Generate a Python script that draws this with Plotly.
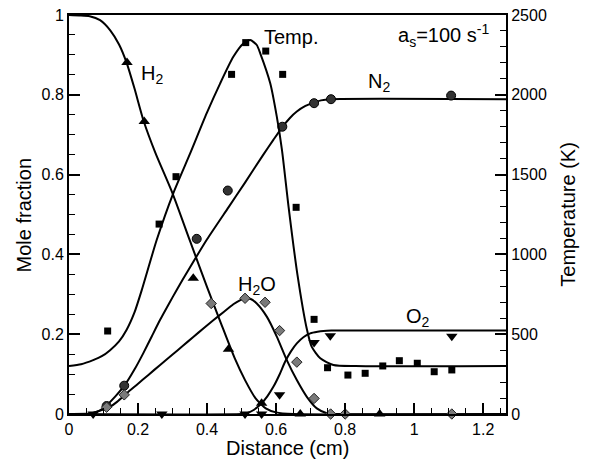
import plotly.graph_objects as go

# ---- model profiles (mole fraction vs distance) ----
h2_x = [0, 0.03, 0.06, 0.09, 0.12, 0.145, 0.167, 0.19, 0.216, 0.25, 0.30, 0.35, 0.40,
        0.44, 0.48, 0.51, 0.54, 0.57, 0.60, 0.65, 1.266]
h2_y = [1.0, 0.999, 0.997, 0.987, 0.961, 0.926, 0.880, 0.815, 0.735, 0.655, 0.553, 0.435,
        0.318, 0.228, 0.140, 0.085, 0.040, 0.014, 0.004, 0.0, 0.0]

n2_x = [0, 0.05, 0.07, 0.09, 0.109, 0.135, 0.162, 0.19, 0.215, 0.24, 0.264, 0.29, 0.312,
        0.346, 0.40, 0.462, 0.51, 0.563, 0.592, 0.617, 0.64, 0.66, 0.685, 0.708, 0.73,
        0.757, 1.266]
n2_y = [0, 0, 0.002, 0.009, 0.022, 0.045, 0.073, 0.112, 0.152, 0.195, 0.236, 0.277, 0.311,
        0.361, 0.438, 0.518, 0.580, 0.650, 0.687, 0.718, 0.742, 0.758, 0.772, 0.780, 0.786,
        0.789, 0.789]

h2o_x = [0, 0.06, 0.08, 0.10, 0.119, 0.14, 0.167, 0.20, 0.23, 0.264, 0.30, 0.33, 0.36,
         0.39, 0.418, 0.45, 0.476, 0.495, 0.51, 0.525, 0.544, 0.573, 0.602, 0.631, 0.66,
         0.689, 0.718, 0.747, 0.78, 1.266]
h2o_y = [0, 0.001, 0.006, 0.011, 0.018, 0.031, 0.052, 0.076, 0.098, 0.123, 0.149, 0.171,
         0.193, 0.215, 0.235, 0.257, 0.275, 0.285, 0.290, 0.289, 0.277, 0.244, 0.194,
         0.135, 0.085, 0.043, 0.014, 0.002, 0.0, 0.0]

o2_x = [0, 0.50, 0.515, 0.535, 0.558, 0.575, 0.592, 0.61, 0.626, 0.643, 0.66, 0.68, 0.699,
        0.72, 0.737, 0.76, 1.266]
o2_y = [0, 0, 0.002, 0.010, 0.027, 0.045, 0.068, 0.099, 0.131, 0.157, 0.177, 0.193, 0.202,
        0.206, 0.208, 0.209, 0.209]

# ---- model temperature profile (K) ----
t_x = [0, 0.035, 0.07, 0.095, 0.119, 0.145, 0.167, 0.19, 0.211, 0.254, 0.302, 0.351,
       0.399, 0.438, 0.476, 0.505, 0.525, 0.544, 0.554, 0.583, 0.602, 0.617, 0.636, 0.662,
       0.689, 0.703, 0.728, 0.766, 0.83, 1.266]
t_y = [300, 312, 338, 362, 400, 455, 528, 638, 778, 1090, 1383, 1633, 1885, 2072, 2238,
       2322, 2343, 2312, 2260, 2072, 1863, 1654, 1300, 870, 532, 422, 349, 307, 300, 300]

# ---- measured points ----
h2_mx = [0.168, 0.218, 0.360, 0.462, 0.558, 0.670, 0.900]
h2_my = [0.881, 0.733, 0.340, 0.162, 0.027, 0.0, 0.0]

t_mx = [0.112, 0.261, 0.310, 0.471, 0.512, 0.570, 0.619, 0.658, 0.710, 0.749, 0.808,
        0.858, 0.909, 0.957, 1.009, 1.058, 1.109]
t_my = [520, 1190, 1487, 2128, 2327, 2274, 2128, 1295, 593, 290, 244, 255, 301, 334,
        318, 265, 276]

n2_mx = [0.109, 0.160, 0.370, 0.460, 0.618, 0.710, 0.759, 1.107]
n2_my = [0.020, 0.071, 0.439, 0.560, 0.720, 0.779, 0.789, 0.798]

h2o_mx = [0.109, 0.160, 0.412, 0.510, 0.568, 0.610, 0.660, 0.710, 0.758, 0.800, 1.109]
h2o_my = [0.017, 0.048, 0.277, 0.290, 0.280, 0.209, 0.130, 0.039, 0.0, 0.0, 0.0]

o2_mx = [0.070, 0.269, 0.510, 0.558, 0.610, 0.710, 0.757, 1.109]
o2_my = [0.0, 0.0, 0.0, 0.0, 0.048, 0.179, 0.196, 0.195]

FONT = "Liberation Sans, Arial, sans-serif"
LINE = dict(color="black", width=2, shape="spline", smoothing=0.6)

fig = go.Figure()

for xs, ys in [(h2_x, h2_y), (n2_x, n2_y), (h2o_x, h2o_y), (o2_x, o2_y)]:
    fig.add_trace(go.Scatter(x=xs, y=ys, mode="lines", line=LINE,
                             showlegend=False, hoverinfo="skip"))
fig.add_trace(go.Scatter(x=t_x, y=t_y, mode="lines", line=LINE, yaxis="y2",
                         showlegend=False, hoverinfo="skip"))

fig.add_trace(go.Scatter(x=h2_mx, y=h2_my, mode="markers", cliponaxis=False,
                         marker=dict(symbol="triangle-up", size=10, color="black"),
                         showlegend=False))
fig.add_trace(go.Scatter(x=o2_mx, y=o2_my, mode="markers", cliponaxis=False,
                         marker=dict(symbol="triangle-down", size=10, color="black"),
                         showlegend=False))
fig.add_trace(go.Scatter(x=n2_mx, y=n2_my, mode="markers", cliponaxis=False,
                         marker=dict(symbol="circle", size=9, color="#333333",
                                     line=dict(color="black", width=1)),
                         showlegend=False))
fig.add_trace(go.Scatter(x=h2o_mx, y=h2o_my, mode="markers", cliponaxis=False,
                         marker=dict(symbol="diamond", size=8, color="#7a7a7a",
                                     line=dict(color="#222222", width=1)),
                         showlegend=False))
fig.add_trace(go.Scatter(x=t_mx, y=t_my, mode="markers", yaxis="y2", cliponaxis=False,
                         marker=dict(symbol="square", size=7, color="black"),
                         showlegend=False))

# in-plot species / condition labels
labels = [
    ("H<sub>2</sub>", 0.203, 0.852),
    ("Temp.", 0.560, 0.945),
    ("N<sub>2</sub>", 0.860, 0.832),
    ("a<sub>s</sub>=100 s<sup>-1</sup>", 0.946, 0.948),
    ("H<sub>2</sub>O", 0.484, 0.322),
    ("O<sub>2</sub>", 0.970, 0.242),
]
for txt, lx, ly in labels:
    fig.add_annotation(x=lx, y=ly, xref="x", yref="y", text=txt, showarrow=False,
                       xanchor="left", yanchor="middle",
                       font=dict(family=FONT, size=20, color="black"))

# axis titles placed in paper coordinates
titles = [
    ("Distance (cm)", 0.501, -0.085, 0),
    ("Mole fraction", -0.103, 0.5, -90),
    ("Temperature (K)", 1.14, 0.5, -90),
]
for txt, px, py, ang in titles:
    fig.add_annotation(x=px, y=py, xref="paper", yref="paper", text=txt,
                       showarrow=False, xanchor="center", yanchor="middle",
                       textangle=ang, font=dict(family=FONT, size=20, color="black"))

axis_common = dict(
    showline=True, linecolor="black", linewidth=2,
    ticks="inside", ticklen=11, tickwidth=1.5, tickcolor="black",
    showgrid=False, zeroline=False, automargin=False,
    tickfont=dict(family=FONT, size=16, color="black"),
)
minor_common = dict(ticks="inside", ticklen=6, tickwidth=1, tickcolor="black")

fig.update_layout(
    width=591, height=461,
    margin=dict(l=69, r=85, t=15, b=47),
    paper_bgcolor="white", plot_bgcolor="white",
    font=dict(family=FONT, color="black"),
    xaxis=dict(
        range=[0, 1.266], dtick=0.2, tick0=0, mirror=True,
        minor=dict(dtick=0.05, **minor_common),
        **axis_common,
    ),
    yaxis=dict(
        range=[0, 1], dtick=0.2, tick0=0,
        minor=dict(dtick=0.05, **minor_common),
        **axis_common,
    ),
    yaxis2=dict(
        range=[0, 2500], dtick=500, tick0=0, overlaying="y", side="right",
        minor=dict(dtick=100, **minor_common),
        **axis_common,
    ),
)

fig.write_html("out.html")
